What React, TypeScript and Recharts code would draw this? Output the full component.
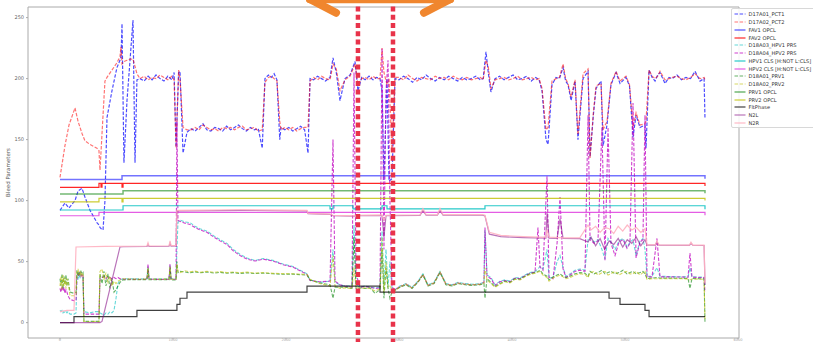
import { LineChart, Line, XAxis, YAxis, ReferenceArea, ReferenceLine } from 'recharts';

const X_TICKS = [0, 1000, 2000, 3000, 4000, 5000, 6000];
const Y_TICKS = [0, 50, 100, 150, 200, 250];

// PCT1 / PCT2 share one sample grid
const pctX = [
  0, 44, 80, 133, 160, 195, 221, 266, 327, 345, 354, 365, 381, 398, 416, 460, 504, 531, 540, 549, 566, 593, 620, 646, 664, 681, 708,
  745, 780, 815, 850, 885, 920, 955, 990, 1010, 1027, 1050, 1062, 1089, 1124,
  1160, 1195, 1230, 1265, 1300, 1335, 1370, 1405, 1440, 1475, 1510, 1545, 1580, 1615, 1650, 1685, 1720, 1755, 1790, 1814,
  1845, 1870, 1895, 1920, 1945, 1956, 1990, 2025, 2060, 2095, 2130, 2165, 2195, 2213,
  2245, 2280, 2315, 2350, 2390, 2416, 2445, 2478, 2522, 2567, 2611, 2637, 2670, 2700, 2735, 2770, 2800, 2832, 2850, 2867, 2894, 2912, 2938, 2965,
  3000, 3040, 3080, 3120, 3160, 3200, 3240, 3280, 3320, 3360, 3400, 3440, 3480, 3520, 3560, 3600, 3640, 3680, 3720, 3745, 3770, 3790, 3814,
  3850, 3890, 3930, 3970, 4010, 4050, 4090, 4130, 4170, 4210, 4240, 4266, 4301, 4319, 4354, 4390, 4420, 4452, 4475, 4496, 4523, 4558, 4584,
  4629, 4673, 4691, 4720, 4744, 4788, 4806, 4841, 4876, 4921, 4956, 5009, 5040, 5071, 5098, 5133, 5177, 5186, 5213, 5240, 5266, 5290, 5310,
  5354, 5390, 5420, 5460, 5500, 5540, 5580, 5620, 5664, 5700, 5708,
];
const pct1 = [
  92, 98, 94, 100, 108, 110, 103, 92, 82, 80, 78, 77, 76, 100, 168, 190, 209, 215, 218, 245, 131, 182, 215, 248, 131, 199, 200,
  198, 202, 199, 203, 200, 198, 202, 199, 205, 144, 205, 206, 139, 156,
  159, 157, 160, 163, 158, 157, 160, 159, 157, 161, 158, 160, 162, 159, 157, 160, 158, 159, 143, 200,
  203, 201, 204, 199, 150, 160, 158, 160, 157, 159, 161, 158, 139, 200,
  199, 202, 200, 198, 201, 217, 205, 182, 200, 203, 214, 190, 201, 199, 202, 199, 201, 200, 190, 117, 200, 116, 118, 200,
  199, 202, 200, 197, 201, 199, 203, 200, 198, 201, 199, 202, 200, 198, 201, 199, 200, 202, 199, 200, 222, 205, 189,
  200, 202, 199, 201, 203, 199, 200, 202, 198, 201, 199, 190, 150, 146, 195, 201, 200, 209, 198, 195, 182, 198, 150,
  200, 206, 136, 170, 192, 198, 145, 162, 195, 205, 196, 201, 194, 152, 170, 160, 162, 143, 207, 201, 198, 203, 205,
  196, 201, 200, 203, 199, 201, 200, 206, 198, 200, 167,
];
const pct2 = [
  119, 145, 162, 176, 165, 155, 149, 146, 143, 141, 125, 143, 170, 198, 201, 207, 213, 218, 226, 212, 214, 215, 216, 216, 210, 204, 200,
  202, 199, 201, 200, 203, 201, 199, 202, 199, 143, 207, 200, 160, 158,
  158, 160, 158, 162, 160, 158, 159, 157, 160, 159, 160, 158, 160, 161, 158, 159, 160, 157, 158, 197,
  201, 202, 200, 198, 165, 158, 160, 158, 160, 157, 159, 160, 160, 198,
  201, 199, 202, 200, 199, 212, 208, 190, 199, 202, 212, 195, 200, 201, 199, 202, 200, 200, 225, 205, 195, 200, 140, 201,
  201, 199, 203, 200, 198, 201, 200, 199, 202, 200, 201, 199, 202, 200, 199, 201, 199, 200, 201, 199, 215, 210, 192,
  199, 200, 201, 199, 200, 202, 199, 200, 201, 199, 200, 192, 158, 160, 198, 200, 201, 212, 200, 196, 185, 199, 154,
  204, 208, 135, 172, 194, 196, 158, 165, 196, 206, 198, 202, 195, 160, 172, 162, 163, 165, 207, 202, 200, 202, 206,
  199, 200, 201, 202, 200, 199, 201, 204, 200, 201, 199,
];

// pressure / PRV traces share another grid
const lowX = [
  0, 9, 18, 27, 35, 44, 53, 62, 71, 89,
  124, 142, 150, 160, 168, 177, 186, 195, 204, 212,
  266, 310, 345, 354, 372, 389, 407, 425, 442, 460,
  478, 496, 513, 531, 558, 620, 708, 770, 779, 788,
  885, 965, 974, 983, 1027, 1035, 1044, 1062, 1106, 1150,
  1195, 1239, 1301, 1363, 1416, 1478, 1531, 1593, 1655, 1726,
  1797, 1885, 1974, 2062, 2124, 2186, 2213, 2301, 2390, 2416,
  2434, 2478, 2522, 2584, 2602, 2620, 2655, 2699, 2744, 2788,
  2832, 2850, 2867, 2885, 2903, 2920, 2938, 2965, 3009, 3062,
  3115, 3168, 3212, 3257, 3310, 3363, 3416, 3469, 3522, 3584,
  3646, 3717, 3752, 3761, 3779, 3814, 3850, 3894, 3938, 3982,
  4027, 4071, 4115, 4159, 4204, 4230, 4248, 4274, 4310, 4328,
  4363, 4399, 4425, 4452, 4478, 4514, 4558, 4602, 4646, 4673,
  4691, 4726, 4761, 4796, 4823, 4850, 4876, 4912, 4947, 4983,
  5018, 5044, 5071, 5098, 5133, 5159, 5177, 5195, 5239, 5283,
  5310, 5398, 5487, 5558, 5575, 5593, 5664, 5700, 5708,
];
const hpv1Prs = [
  10, 9, 10, 8, 9, 8, 9, 8, 9, 7,
  7, 8, 38, 36, 39, 37, 40, 38, 37, 9,
  8, 9, 9, 8, 7, 6, 8, 7, 9, 8,
  10, 20, 32, 35, 36, 36, 35.8, 36, 46, 36,
  35.9, 36, 47, 36, 36, 60, 82, 84, 82.5, 82,
  79, 77, 75, 71, 68, 65, 60, 56, 53, 51,
  52.5, 51, 48, 46, 43, 40, 35, 33, 34, 60,
  33, 31, 30, 30, 80, 31, 29, 30, 29, 28.5,
  29, 75, 30, 60, 29, 50, 28, 27, 30, 32,
  29, 34, 40, 31, 33, 42, 32, 31, 33, 32,
  31.5, 32, 33, 76, 39, 37, 31, 34, 35, 34,
  37, 36.5, 39, 41, 42, 44, 46, 44, 60, 36.5,
  37, 50, 55, 45, 38, 40, 43, 44, 43, 68,
  70, 66, 68, 60, 52, 69, 66, 60, 67, 69,
  62, 66, 68, 55, 67, 69, 60, 38, 38, 45,
  38, 37.8, 37.6, 37.5, 45, 37.5, 37.4, 37.2, 30,
];
const hpv2Prs = [
  28, 25, 30, 26, 29, 24, 27, 25, 22, 19,
  18, 18, 37, 40, 38, 41, 38, 40, 38, 7,
  7, 7, 7, 36, 37, 38, 36, 38, 37, 36,
  37, 36, 37, 36, 35.5, 35.5, 35.4, 35.5, 48, 35.6,
  35.4, 35.5, 48, 35.5, 35.5, 165, 84, 83, 81.5, 80.5,
  78, 76, 74, 70, 67, 64, 59, 55, 52, 50.5,
  52, 50.5, 47.5, 45.5, 42.5, 39.5, 34.5, 33.5, 34, 150,
  34, 31, 30, 29, 205, 40, 29, 29.5, 29, 28,
  28.5, 225, 60, 190, 215, 100, 29, 27, 29.5, 31.5,
  28.5, 33.5, 39.5, 30.5, 32.5, 41.5, 31.5, 30.5, 32.5, 31.5,
  31, 31.5, 33, 78, 38, 36, 30.5, 33.5, 34.5, 33.5,
  36.5, 36, 38.5, 40.5, 41.5, 78, 45.5, 43, 120, 37,
  36, 65, 103, 44, 37, 39, 42, 43, 42, 170,
  68, 65, 67, 160, 51, 160, 65, 55, 66, 68,
  61, 65, 180, 53, 66, 68, 170, 37.5, 37.5, 69,
  37.5, 37.5, 37.4, 37.2, 57, 37.2, 37, 37, 25,
];
const prv1 = [
  36, 30, 40, 28, 38, 31, 39, 30, 36, 25,
  24, 25, 43, 38, 42, 39, 42, 40, 41, 1,
  1, 1, 1, 40, 32, 42, 30, 40, 28, 36,
  25, 27, 30, 33, 35, 35.2, 35.1, 35.2, 44, 35.2,
  35.1, 35.2, 45, 35, 35, 50, 41, 42, 41.5, 40.8,
  41.6, 40.9, 41.5, 40.6, 41.2, 40.5, 41, 40.3, 40.8, 40.2,
  40.6, 40, 39.6, 39.8, 39.3, 39, 35, 32.5, 31, 20,
  29, 29, 29, 28, 70, 28, 28.5, 28, 28.5, 24,
  27, 60, 20, 45, 28, 20, 25, 26.5, 29, 31,
  28, 33, 39, 30, 32, 41, 31, 30, 32, 31,
  30.5, 31, 32, 20, 36, 33, 29.5, 32, 34, 33,
  36, 35.5, 38, 40, 41, 42, 43, 40, 38, 35,
  37.5, 39, 40, 38, 37, 38, 40, 41, 40.5, 38,
  42, 40, 41, 43, 40, 41, 42, 40, 41, 43,
  40, 41, 42, 40, 41, 42, 40, 36, 36.5, 37,
  36.5, 36.5, 36.4, 36.2, 28, 36.2, 36, 36, 0,
];
const prv2 = [
  30, 38, 27, 39, 30, 37, 28, 36, 33, 22,
  22, 23, 41, 44, 39, 42, 38, 41, 39, 1,
  0.5, 1, 0.5, 42, 44, 35, 41, 33, 38, 30,
  34, 32, 34, 35, 36, 35.8, 35.6, 35.8, 45, 35.8,
  35.6, 35.7, 46, 35.6, 35.5, 48, 42, 41, 42.5, 41.6,
  42.2, 41.3, 42, 41.2, 41.8, 41, 41.5, 40.9, 41.4, 40.6,
  41, 40.4, 40.2, 40, 39.8, 39.5, 35.5, 32, 30, 55,
  30, 28, 28.5, 28, 45, 29, 28, 28.5, 28, 26,
  27.5, 70, 25, 50, 29, 30, 27, 26, 29.5, 31.5,
  28.5, 33.5, 39.5, 30.5, 32.5, 41.5, 31.5, 30.5, 32.5, 31.5,
  31, 31.5, 32.5, 45, 35, 32, 29, 31.5, 33.5, 32.5,
  35.5, 35, 37.5, 39.5, 40.5, 41.5, 42, 39, 37, 34,
  36.5, 38, 39, 37.5, 36, 37, 39, 40, 39.5, 37,
  41, 42, 39, 41, 42, 39, 40, 42, 39, 41,
  42, 40, 40, 42, 39, 41, 42, 35.5, 36, 36,
  36, 36, 36, 35.8, 35, 35.8, 35.6, 35.5, 2,
];

// discrete / step signals
const fav1X = [0, 549, 549, 5708, 5708];
const fav1 = [117.4, 117.4, 120.4, 120.4, 118];
const fav2X = [0, 345, 345, 363, 363, 372, 372, 549, 549, 558, 558, 5708, 5708];
const fav2 = [110.9, 110.9, 114.1, 114.1, 111, 111, 114.1, 114.1, 111, 111, 114.1, 114.1, 112];
const hpv1ClsX = [0, 558, 558, 2390, 2390, 2416, 2416, 2593, 2593, 2850, 2850, 2894, 2894, 3761, 3761, 5708, 5708];
const hpv1Cls = [92.3, 92.3, 95.8, 95.8, 93.2, 93.2, 95.8, 95.8, 93.2, 93.2, 95.8, 95.8, 93.2, 93.2, 95.8, 95.8, 93];
const hpv2ClsX = [0, 345, 345, 5708, 5708];
const hpv2Cls = [87.6, 87.6, 90.4, 90.4, 88];
const prv1OpclX = [0, 558, 558, 5708, 5708];
const prv1Opcl = [105.4, 105.4, 108.1, 108.1, 106];
const prv2OpclX = [0, 345, 345, 549, 549, 558, 558, 5708, 5708];
const prv2Opcl = [99, 99, 101.8, 101.8, 99, 99, 101.8, 101.8, 100];
const phaseX = [0, 124, 124, 681, 681, 1035, 1035, 1062, 1062, 1124, 1124, 2186, 2186, 2832, 2832, 4859, 4859, 4956, 4956, 5177, 5177, 5213, 5213, 5708];
const phase = [0, 0, 5, 5, 10, 10, 15, 15, 20, 20, 25, 25, 30, 30, 25, 25, 20, 20, 15, 15, 10, 10, 5, 5];

const n2lX = [
  0, 354, 372, 531, 558, 770, 779, 788, 965, 974, 983, 1027, 1035, 1600, 2186, 2195, 2390, 2416, 2602, 2620,
  2850, 2867, 2885, 3186, 3212, 3240, 3340, 3363, 3390, 3740, 3761, 3800, 3900, 4000, 4100, 4300, 4310, 4328,
  4399, 4425, 4452, 4600, 4673, 4700, 4740, 4780, 4820, 4860, 4900, 4940, 4980, 5020, 5060, 5100, 5140, 5177,
  5195, 5270, 5283, 5300, 5570, 5584, 5600, 5700, 5708,
];
const n2l = [
  0, 0, 1, 62, 62.2, 62.4, 64, 62.4, 62.6, 65, 62.7, 62.8, 91.5, 92, 91.5, 89.3, 88.7, 87.6, 87.2, 87.6,
  87.8, 70, 87.6, 87.9, 92, 88, 88, 92, 88, 88, 87.5, 72.5, 70.5, 70, 69.7, 69.2, 90, 69.2,
  69, 85, 69, 68.8, 66, 70, 63, 69, 60, 67, 64, 69, 62, 68, 65, 70, 63, 68,
  63.5, 63.6, 66, 63.5, 63.4, 65, 63.4, 63.2, 31,
];
const n2rX = [
  0, 62, 124, 142, 400, 770, 779, 788, 965, 974, 983, 1027, 1035, 1600, 2186, 2195, 2390, 2416, 2602, 2620,
  2850, 2867, 2885, 3186, 3212, 3240, 3340, 3363, 3390, 3740, 3761, 3800, 3900, 4000, 4100, 4230, 4300, 4310,
  4328, 4450, 4600, 4673, 4700, 4740, 4780, 4820, 4860, 4900, 4940, 4980, 5020, 5060, 5100, 5140, 5177,
  5195, 5270, 5283, 5300, 5570, 5584, 5600, 5700, 5708,
];
const n2r = [
  9, 10, 10, 62, 62.5, 62.8, 65.5, 62.8, 63, 67, 63.2, 63.3, 92, 92.5, 92, 89.6, 89, 88, 87.5, 88,
  88.3, 84, 88, 88.3, 93.5, 88.5, 88.4, 93.5, 88.5, 88.5, 88, 74, 71.5, 71, 70.5, 70, 70, 76,
  70, 69.5, 69.5, 80, 76, 79, 74, 78, 77, 73, 79, 75, 80, 76, 78, 74, 77,
  63.8, 63.9, 67, 63.8, 63.6, 66, 63.6, 63.5, 32,
];

const pts = (xs: number[], ys: number[]) => xs.map((x, i) => ({ x, y: ys[i] }));

const DASH = '3.5 1.6';

const SERIES = [
  { name: 'D17A01_PCT1', xs: pctX, ys: pct1, color: '#0000ff', op: 0.7, dash: DASH, w: 1.2 },
  { name: 'D17A02_PCT2', xs: pctX, ys: pct2, color: '#ff0000', op: 0.55, dash: DASH, w: 1.2 },
  { name: 'FAV1 OPCL', xs: fav1X, ys: fav1, color: '#0000ff', op: 0.55, dash: undefined, w: 1.5 },
  { name: 'FAV2 OPCL', xs: fav2X, ys: fav2, color: '#ff0000', op: 0.85, dash: undefined, w: 1.2 },
  { name: 'D18A03_HPV1 PRS', xs: lowX, ys: hpv1Prs, color: '#00bfbf', op: 0.6, dash: DASH, w: 1.1 },
  { name: 'D18A04_HPV2 PRS', xs: lowX, ys: hpv2Prs, color: '#bf00bf', op: 0.75, dash: DASH, w: 1.1 },
  { name: 'HPV1 CLS [H:NOT L:CLS]', xs: hpv1ClsX, ys: hpv1Cls, color: '#00bfbf', op: 0.85, dash: undefined, w: 1.2 },
  { name: 'HPV2 CLS [H:NOT L:CLS]', xs: hpv2ClsX, ys: hpv2Cls, color: '#dd33dd', op: 0.8, dash: undefined, w: 1.2 },
  { name: 'D18A01_PRV1', xs: lowX, ys: prv1, color: '#008000', op: 0.6, dash: DASH, w: 1.1 },
  { name: 'D18A02_PRV2', xs: lowX, ys: prv2, color: '#bfbf00', op: 0.6, dash: DASH, w: 1.1 },
  { name: 'PRV1 OPCL', xs: prv1OpclX, ys: prv1Opcl, color: '#008000', op: 0.55, dash: undefined, w: 1.5 },
  { name: 'PRV2 OPCL', xs: prv2OpclX, ys: prv2Opcl, color: '#bfbf00', op: 0.8, dash: undefined, w: 1.2 },
  { name: 'FltPhase', xs: phaseX, ys: phase, color: '#000000', op: 0.75, dash: undefined, w: 1.2 },
  { name: 'N2L', xs: n2lX, ys: n2l, color: '#800080', op: 0.55, dash: undefined, w: 1.2 },
  { name: 'N2R', xs: n2rX, ys: n2r, color: '#ffb0c0', op: 0.9, dash: undefined, w: 1.2 },
];

const ORANGE = '#f0862e';
const MARK_RED = '#e8334a';

function LegendBox() {
  return (
    <div
      style={{
        position: 'absolute',
        left: 731,
        top: 8,
        width: 100,
        height: 118,
        background: 'rgba(255,255,255,0.85)',
        border: '1px solid #d8d8d8',
        borderRadius: 2,
        fontFamily: 'DejaVu Sans',
        fontSize: 5.1,
        color: '#333',
      }}
    >
      {SERIES.map((s, i) => (
        <div key={s.name} style={{ position: 'absolute', left: 2, top: 2.3 + i * 7.75, height: 6, display: 'flex', alignItems: 'center' }}>
          <svg width={12} height={6}>
            <line x1={0.5} y1={3} x2={11.5} y2={3} stroke={s.color} strokeOpacity={s.op} strokeWidth={s.w} strokeDasharray={s.dash} />
          </svg>
          <span style={{ marginLeft: 2.5, whiteSpace: 'nowrap' }}>{s.name}</span>
        </div>
      ))}
    </div>
  );
}

export default function App() {
  return (
    <div style={{ position: 'fixed', left: 0, top: 0, width: 813, height: 342, background: '#fff' }}>
      <LineChart width={813} height={342} margin={{ top: 7, right: 74, bottom: 0, left: 0 }} style={{ fontFamily: 'DejaVu Sans' }}>
        <XAxis
          type="number"
          dataKey="x"
          domain={[-283, 6009]}
          allowDataOverflow
          ticks={X_TICKS}
          height={4}
          tickSize={1.5}
          tickMargin={0}
          axisLine={false}
          tickLine={{ stroke: '#aaa' }}
          tick={{ fontSize: 3.6, fill: '#aaa', dy: -1.2 }}
        />
        <YAxis
          type="number"
          dataKey="y"
          domain={[-12.6, 258.7]}
          allowDataOverflow
          ticks={Y_TICKS}
          width={28}
          tickSize={2}
          tickMargin={2}
          axisLine={false}
          tickLine={{ stroke: '#aaa' }}
          tick={{ fontSize: 5, fill: '#666' }}
          label={{ value: 'Bleed Parameters', angle: -90, position: 'center', dx: -6, style: { fontSize: 5.5, fill: '#555' } }}
        />
        <ReferenceArea x1={-283} x2={6009} y1={-12.6} y2={258.7} fill="none" stroke="#aaa" strokeWidth={1} />
        {SERIES.map((s) => (
          <Line
            key={s.name}
            data={pts(s.xs, s.ys)}
            dataKey="y"
            name={s.name}
            type="linear"
            stroke={s.color}
            strokeOpacity={s.op}
            strokeWidth={s.w}
            strokeDasharray={s.dash}
            dot={false}
            activeDot={false}
            isAnimationActive={false}
          />
        ))}
        {/* hand-drawn annotations on top of the plot */}
        <ReferenceLine segment={[{ x: 2637, y: 266 }, { x: 2637, y: -16 }]} ifOverflow="visible" stroke={MARK_RED} strokeWidth={4.5} strokeDasharray="5 3.3" />
        <ReferenceLine segment={[{ x: 2947, y: 266 }, { x: 2947, y: -16 }]} ifOverflow="visible" stroke={MARK_RED} strokeWidth={4.5} strokeDasharray="5 3.3" />
        <ReferenceLine segment={[{ x: 2213, y: 265 }, { x: 3452, y: 265 }]} ifOverflow="visible" stroke={ORANGE} strokeWidth={8} strokeLinecap="round" />
        <ReferenceLine segment={[{ x: 2213, y: 265 }, { x: 2443, y: 254 }]} ifOverflow="visible" stroke={ORANGE} strokeWidth={8} strokeLinecap="round" />
        <ReferenceLine segment={[{ x: 3452, y: 265 }, { x: 3221, y: 254 }]} ifOverflow="visible" stroke={ORANGE} strokeWidth={8} strokeLinecap="round" />
      </LineChart>
      <LegendBox />
    </div>
  );
}
